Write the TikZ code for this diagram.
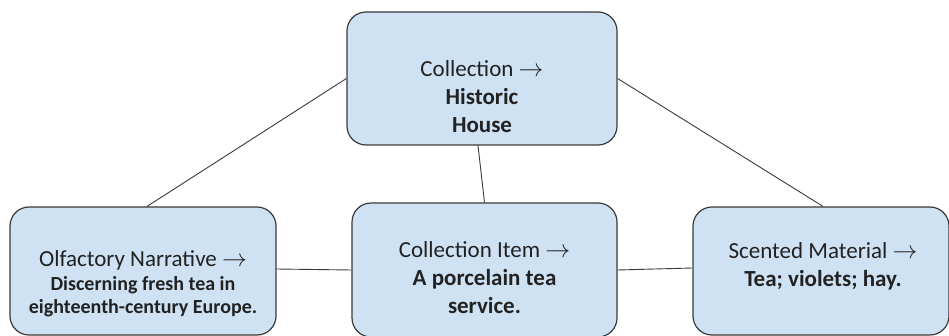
\documentclass[tikz,border=0pt]{standalone}
\usepackage{fontspec}
\setmainfont{Carlito}
\usepackage{amsmath}
\usepackage{xcolor}
\definecolor{azulcaja}{HTML}{CFE2F3}
\definecolor{gristrazo}{HTML}{3A3A3A}
\definecolor{gristexto}{HTML}{222222}

\begin{document}
\begin{tikzpicture}[x=1pt, y=-1pt,
    caja/.style={draw=gristrazo, fill=azulcaja, line width=1.2pt, rounded corners=19pt, inner sep=0pt},
    rotulo/.style={text=gristexto, align=center, inner sep=0pt, font=\fontsize{23}{28}\selectfont},
    linea/.style={draw=gristrazo, line width=0.9pt}]

\useasboundingbox (0,0) rectangle (949,336);
\clip (0,0) rectangle (949,336);

% Cajas
\node[caja, minimum width=270pt, minimum height=133pt] (coleccion) at (482,78.5) {};
\node[caja, minimum width=266pt, minimum height=128pt] (narrativa) at (143,271) {};
\node[caja, minimum width=265pt, minimum height=134pt] (objeto) at (484.5,270) {};
\node[caja, minimum width=256pt, minimum height=128pt] (material) at (821,271) {};

% Textos
\node[rotulo] (coleccion-t) at (482,97) {Collection $\rightarrow$\\ \bfseries Historic\\ \bfseries House};
\node[rotulo] (narrativa-t) at (143,284) {Olfactory Narrative $\rightarrow$\\[-4pt]
    \fontsize{20}{22}\selectfont\bfseries Discerning fresh tea in\\[-5pt]
    \fontsize{20}{22}\selectfont\bfseries eighteenth-century Europe.};
\node[rotulo] (objeto-t) at (484.5,278) {Collection Item $\rightarrow$\\ \bfseries A porcelain tea\\ \bfseries service.};
\node[rotulo] (material-t) at (823,266.5) {Scented Material $\rightarrow$\\ \bfseries Tea; violets; hay.};

% Conexiones
\draw[linea] (coleccion.west) -- ([xshift=4pt]narrativa.north);
\draw[linea] (coleccion.east) -- ([xshift=2pt]material.north);
\draw[linea] ([xshift=-4pt]coleccion.south) -- (objeto.north);
\draw[linea] ([yshift=2pt]narrativa.east) -- (objeto.west);
\draw[linea] (objeto.east) -- ([yshift=3pt]material.west);

\end{tikzpicture}
\end{document}
